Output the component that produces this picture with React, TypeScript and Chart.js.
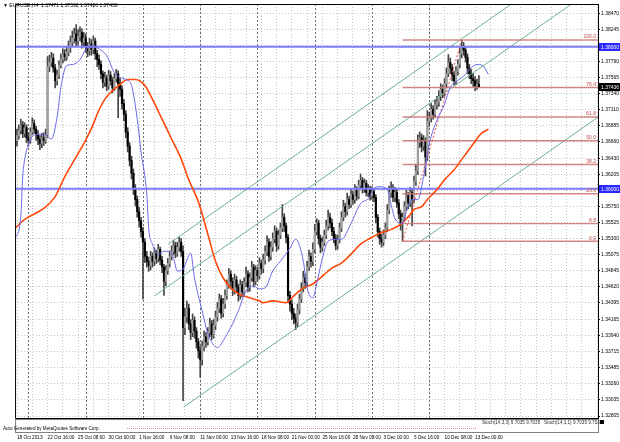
import React, { useEffect, useRef } from 'react';
import { Chart, registerables } from 'chart.js';

Chart.register(...registerables);

const symbolName = 'EURUSD,H4';

const opens = [
  1.3668, 1.3675, 1.3682, 1.3690, 1.3678, 1.3686, 1.3672, 1.3668, 1.3680, 1.3692,
  1.3684, 1.3676, 1.3670, 1.3664, 1.3672, 1.3668, 1.3676, 1.3772, 1.3778, 1.3784,
  1.3770, 1.3752, 1.3760, 1.3774, 1.3782, 1.3790, 1.3786, 1.3792, 1.3798, 1.3806,
  1.3812, 1.3818, 1.3808, 1.3814, 1.3820, 1.3806, 1.3812, 1.3800, 1.3794, 1.3804,
  1.3796, 1.3808, 1.3790, 1.3782, 1.3775, 1.3762, 1.3750, 1.3756, 1.3745, 1.3760,
  1.3752, 1.3742, 1.3755, 1.3762, 1.3748, 1.3740, 1.3720, 1.3705, 1.3680, 1.3660,
  1.3640, 1.3622, 1.3600, 1.3585, 1.3568, 1.3555, 1.3540, 1.3525, 1.3505, 1.3498,
  1.3492, 1.3505, 1.3498, 1.3510, 1.3502, 1.3515, 1.3500, 1.3490, 1.3470, 1.3485,
  1.3495, 1.3505, 1.3512, 1.3520, 1.3510, 1.3518, 1.3525, 1.3512, 1.3405, 1.3420,
  1.3432, 1.3410, 1.3398, 1.3415, 1.3400, 1.3385, 1.3372, 1.3360, 1.3378, 1.3392,
  1.3385, 1.3398, 1.3410, 1.3395, 1.3408, 1.3420, 1.3432, 1.3445, 1.3425, 1.3438,
  1.3450, 1.3465, 1.3480, 1.3470, 1.3458, 1.3472, 1.3462, 1.3450, 1.3465, 1.3455,
  1.3468, 1.3480, 1.3462, 1.3475, 1.3490, 1.3470, 1.3485, 1.3478, 1.3495, 1.3488,
  1.3500, 1.3512, 1.3525, 1.3505, 1.3518, 1.3530, 1.3540, 1.3520, 1.3535, 1.3545,
  1.3560, 1.3548, 1.3532, 1.3450, 1.3438, 1.3425, 1.3418, 1.3412, 1.3430, 1.3445,
  1.3460, 1.3475, 1.3468, 1.3490, 1.3505, 1.3498, 1.3515, 1.3540, 1.3552, 1.3530,
  1.3518, 1.3525, 1.3535, 1.3548, 1.3560, 1.3552, 1.3540, 1.3530, 1.3520, 1.3528,
  1.3545, 1.3560, 1.3575, 1.3568, 1.3585, 1.3578, 1.3592, 1.3585, 1.3598, 1.3590,
  1.3605, 1.3612, 1.3600, 1.3608, 1.3595, 1.3600, 1.3590, 1.3596, 1.3588, 1.3560,
  1.3540, 1.3530, 1.3525, 1.3535, 1.3545, 1.3570, 1.3595, 1.3600, 1.3588, 1.3595,
  1.3580, 1.3565, 1.3550, 1.3560, 1.3575, 1.3590, 1.3580, 1.3595, 1.3585, 1.3610,
  1.3625, 1.3665, 1.3672, 1.3660, 1.3668, 1.3645, 1.3695, 1.3700, 1.3712, 1.3705,
  1.3718, 1.3722, 1.3730, 1.3740, 1.3735, 1.3748, 1.3762, 1.3778, 1.3770, 1.3760,
  1.3752, 1.3765, 1.3775, 1.3790, 1.3800, 1.3795, 1.3785, 1.3770, 1.3762, 1.3755,
  1.3752, 1.3745, 1.37471,
];

const highs = [
  1.3684, 1.3690, 1.3698, 1.3695, 1.3693, 1.3690, 1.3679, 1.3686, 1.3700, 1.3697,
  1.3688, 1.3682, 1.3675, 1.3678, 1.3679, 1.3684, 1.3786, 1.3788, 1.3792, 1.3790,
  1.3775, 1.3767, 1.3780, 1.3790, 1.3797, 1.3796, 1.3800, 1.3808, 1.3815, 1.3822,
  1.3826, 1.3831, 1.3824, 1.3828, 1.3825, 1.3820, 1.3818, 1.3806, 1.3812, 1.3810,
  1.3815, 1.3812, 1.3795, 1.3788, 1.3780, 1.3766, 1.3764, 1.3760, 1.3767, 1.3765,
  1.3757, 1.3762, 1.3768, 1.3766, 1.3755, 1.3745, 1.3726, 1.3710, 1.3686, 1.3665,
  1.3646, 1.3628, 1.3606, 1.3590, 1.3574, 1.3560, 1.3546, 1.3530, 1.3512, 1.3504,
  1.3512, 1.3510, 1.3517, 1.3514, 1.3522, 1.3518, 1.3505, 1.3494, 1.3492, 1.3502,
  1.3512, 1.3520, 1.3528, 1.3525, 1.3525, 1.3532, 1.3530, 1.3520, 1.3432, 1.3442,
  1.3438, 1.3416, 1.3424, 1.3420, 1.3405, 1.3390, 1.3378, 1.3386, 1.3400, 1.3398,
  1.3405, 1.3418, 1.3415, 1.3416, 1.3428, 1.3440, 1.3452, 1.3450, 1.3446, 1.3458,
  1.3472, 1.3488, 1.3485, 1.3475, 1.3480, 1.3477, 1.3466, 1.3472, 1.3470, 1.3475,
  1.3490, 1.3485, 1.3482, 1.3498, 1.3494, 1.3492, 1.3490, 1.3503, 1.3500, 1.3508,
  1.3520, 1.3534, 1.3530, 1.3526, 1.3538, 1.3548, 1.3545, 1.3542, 1.3552, 1.3578,
  1.3565, 1.3552, 1.3536, 1.3456, 1.3444, 1.3432, 1.3424, 1.3438, 1.3452, 1.3468,
  1.3484, 1.3480, 1.3498, 1.3514, 1.3510, 1.3524, 1.3550, 1.3558, 1.3556, 1.3535,
  1.3532, 1.3542, 1.3556, 1.3570, 1.3566, 1.3558, 1.3546, 1.3536, 1.3535, 1.3552,
  1.3568, 1.3584, 1.3580, 1.3594, 1.3590, 1.3600, 1.3597, 1.3606, 1.3603, 1.3612,
  1.3621, 1.3616, 1.3614, 1.3612, 1.3606, 1.3604, 1.3603, 1.3600, 1.3592, 1.3564,
  1.3545, 1.3536, 1.3542, 1.3552, 1.3578, 1.3604, 1.3610, 1.3606, 1.3602, 1.3600,
  1.3585, 1.3570, 1.3566, 1.3582, 1.3598, 1.3595, 1.3602, 1.3600, 1.3618, 1.3634,
  1.3676, 1.3680, 1.3677, 1.3675, 1.3672, 1.3710, 1.3708, 1.3720, 1.3717, 1.3725,
  1.3730, 1.3738, 1.3748, 1.3746, 1.3755, 1.3770, 1.3789, 1.3784, 1.3775, 1.3765,
  1.3772, 1.3782, 1.3798, 1.3809, 1.3806, 1.3800, 1.3790, 1.3775, 1.3768, 1.3762,
  1.3758, 1.3754, 1.37592,
];

const lows = [
  1.3660, 1.3670, 1.3677, 1.3672, 1.3673, 1.3665, 1.3660, 1.3664, 1.3676, 1.3678,
  1.3668, 1.3662, 1.3655, 1.3658, 1.3661, 1.3664, 1.3672, 1.3765, 1.3772, 1.3764,
  1.3742, 1.3746, 1.3755, 1.3770, 1.3777, 1.3780, 1.3781, 1.3787, 1.3792, 1.3800,
  1.3805, 1.3800, 1.3802, 1.3808, 1.3798, 1.3800, 1.3792, 1.3786, 1.3788, 1.3788,
  1.3790, 1.3782, 1.3772, 1.3768, 1.3755, 1.3742, 1.3744, 1.3738, 1.3740, 1.3746,
  1.3735, 1.3738, 1.3750, 1.3700, 1.3730, 1.3712, 1.3696, 1.3672, 1.3652, 1.3632,
  1.3614, 1.3592, 1.3576, 1.3560, 1.3546, 1.3532, 1.3445, 1.3496, 1.3490, 1.3484,
  1.3486, 1.3490, 1.3492, 1.3495, 1.3497, 1.3493, 1.3482, 1.3450, 1.3464, 1.3480,
  1.3490, 1.3500, 1.3507, 1.3503, 1.3505, 1.3512, 1.3505, 1.3302, 1.3395, 1.3412,
  1.3402, 1.3388, 1.3392, 1.3390, 1.3376, 1.3362, 1.3335, 1.3352, 1.3372, 1.3377,
  1.3380, 1.3392, 1.3388, 1.3390, 1.3402, 1.3414, 1.3426, 1.3418, 1.3420, 1.3432,
  1.3445, 1.3460, 1.3462, 1.3450, 1.3452, 1.3455, 1.3442, 1.3445, 1.3448, 1.3450,
  1.3462, 1.3455, 1.3456, 1.3470, 1.3462, 1.3465, 1.3470, 1.3473, 1.3480, 1.3482,
  1.3494, 1.3506, 1.3498, 1.3500, 1.3512, 1.3524, 1.3512, 1.3515, 1.3530, 1.3540,
  1.3540, 1.3524, 1.3440, 1.3428, 1.3416, 1.3410, 1.3402, 1.3406, 1.3424, 1.3440,
  1.3455, 1.3460, 1.3462, 1.3485, 1.3490, 1.3492, 1.3510, 1.3535, 1.3522, 1.3510,
  1.3512, 1.3520, 1.3530, 1.3542, 1.3545, 1.3534, 1.3524, 1.3514, 1.3515, 1.3524,
  1.3540, 1.3555, 1.3560, 1.3563, 1.3572, 1.3574, 1.3578, 1.3580, 1.3584, 1.3586,
  1.3600, 1.3594, 1.3595, 1.3590, 1.3589, 1.3584, 1.3585, 1.3582, 1.3552, 1.3532,
  1.3522, 1.3518, 1.3520, 1.3530, 1.3540, 1.3565, 1.3588, 1.3582, 1.3582, 1.3574,
  1.3558, 1.3542, 1.3526, 1.3555, 1.3570, 1.3572, 1.3575, 1.3548, 1.3580, 1.3605,
  1.3620, 1.3658, 1.3652, 1.3654, 1.3618, 1.3640, 1.3688, 1.3694, 1.3698, 1.3700,
  1.3712, 1.3716, 1.3724, 1.3728, 1.3730, 1.3742, 1.3758, 1.3762, 1.3752, 1.3746,
  1.3747, 1.3760, 1.3770, 1.3784, 1.3788, 1.3778, 1.3762, 1.3755, 1.3748, 1.3744,
  1.3738, 1.3740, 1.37426,
];

const closes = [
  1.3675, 1.3682, 1.3690, 1.3678, 1.3686, 1.3672, 1.3668, 1.3680, 1.3692, 1.3684,
  1.3676, 1.3670, 1.3664, 1.3672, 1.3668, 1.3676, 1.3772, 1.3778, 1.3784, 1.3770,
  1.3752, 1.3760, 1.3774, 1.3782, 1.3790, 1.3786, 1.3792, 1.3798, 1.3806, 1.3812,
  1.3818, 1.3808, 1.3814, 1.3820, 1.3806, 1.3812, 1.3800, 1.3794, 1.3804, 1.3796,
  1.3808, 1.3790, 1.3782, 1.3775, 1.3762, 1.3750, 1.3756, 1.3745, 1.3760, 1.3752,
  1.3742, 1.3755, 1.3762, 1.3748, 1.3740, 1.3720, 1.3705, 1.3680, 1.3660, 1.3640,
  1.3622, 1.3600, 1.3585, 1.3568, 1.3555, 1.3540, 1.3525, 1.3505, 1.3498, 1.3492,
  1.3505, 1.3498, 1.3510, 1.3502, 1.3515, 1.3500, 1.3490, 1.3470, 1.3485, 1.3495,
  1.3505, 1.3512, 1.3520, 1.3510, 1.3518, 1.3525, 1.3512, 1.3405, 1.3420, 1.3432,
  1.3410, 1.3398, 1.3415, 1.3400, 1.3385, 1.3372, 1.3360, 1.3378, 1.3392, 1.3385,
  1.3398, 1.3410, 1.3395, 1.3408, 1.3420, 1.3432, 1.3445, 1.3425, 1.3438, 1.3450,
  1.3465, 1.3480, 1.3470, 1.3458, 1.3472, 1.3462, 1.3450, 1.3465, 1.3455, 1.3468,
  1.3480, 1.3462, 1.3475, 1.3490, 1.3470, 1.3485, 1.3478, 1.3495, 1.3488, 1.3500,
  1.3512, 1.3525, 1.3505, 1.3518, 1.3530, 1.3540, 1.3520, 1.3535, 1.3545, 1.3560,
  1.3548, 1.3532, 1.3450, 1.3438, 1.3425, 1.3418, 1.3412, 1.3430, 1.3445, 1.3460,
  1.3475, 1.3468, 1.3490, 1.3505, 1.3498, 1.3515, 1.3540, 1.3552, 1.3530, 1.3518,
  1.3525, 1.3535, 1.3548, 1.3560, 1.3552, 1.3540, 1.3530, 1.3520, 1.3528, 1.3545,
  1.3560, 1.3575, 1.3568, 1.3585, 1.3578, 1.3592, 1.3585, 1.3598, 1.3590, 1.3605,
  1.3612, 1.3600, 1.3608, 1.3595, 1.3600, 1.3590, 1.3596, 1.3588, 1.3560, 1.3540,
  1.3530, 1.3525, 1.3535, 1.3545, 1.3570, 1.3595, 1.3600, 1.3588, 1.3595, 1.3580,
  1.3565, 1.3550, 1.3560, 1.3575, 1.3590, 1.3580, 1.3595, 1.3585, 1.3610, 1.3625,
  1.3665, 1.3672, 1.3660, 1.3668, 1.3645, 1.3695, 1.3700, 1.3712, 1.3705, 1.3718,
  1.3722, 1.3730, 1.3740, 1.3735, 1.3748, 1.3762, 1.3778, 1.3770, 1.3760, 1.3752,
  1.3765, 1.3775, 1.3790, 1.3800, 1.3795, 1.3785, 1.3770, 1.3762, 1.3755, 1.3752,
  1.3745, 1.3747, 1.37436,
];

// fast moving average (blue), read at sparse bars
const maFastBars = [-1, 2, 3, 4, 7, 9, 14, 18, 21, 23, 26, 29, 33, 36, 40, 42, 47, 51, 54, 57, 60, 63, 65, 68, 69, 71, 74, 77, 80, 82, 84, 87, 91, 93, 97, 100, 105, 109, 113, 116, 120, 124, 127, 130, 134, 138, 143, 146, 150, 152, 155, 157, 160, 163, 167, 170, 175, 180, 184, 187, 190, 194, 196, 198, 202, 204, 207, 210, 213, 216, 220, 224, 227, 231, 235, 238, 241, 244, 247];
const maFastValues = [1.35291, 1.35612, 1.36170, 1.36408, 1.36687, 1.36757, 1.36771, 1.36701, 1.37008, 1.37427, 1.37734, 1.37748, 1.37818, 1.37958, 1.38013, 1.37985, 1.37874, 1.37636, 1.37567, 1.37539, 1.37455, 1.36980, 1.36519, 1.35919, 1.35444, 1.35221, 1.35081, 1.35123, 1.35123, 1.35025, 1.34844, 1.34872, 1.35095, 1.34746, 1.34285, 1.33964, 1.33769, 1.33908, 1.34104, 1.34285, 1.34565, 1.34634, 1.34593, 1.34607, 1.34844, 1.34983, 1.35165, 1.35291, 1.34983, 1.34607, 1.34467, 1.34662, 1.35025, 1.35263, 1.35291, 1.35291, 1.35514, 1.35793, 1.35863, 1.36003, 1.36031, 1.35989, 1.35779, 1.35584, 1.35514, 1.35682, 1.35849, 1.35849, 1.36170, 1.36631, 1.36966, 1.37190, 1.37427, 1.37525, 1.37609, 1.37706, 1.37748, 1.37734, 1.37609];

// slow moving average (red), read at sparse bars
const maSlowBars = [-1, 4, 14, 20, 25, 31, 36, 40, 42, 46, 54, 58, 62, 67, 71, 76, 81, 86, 90, 95, 100, 104, 108, 112, 116, 122, 127, 129, 134, 141, 145, 150, 155, 160, 165, 170, 175, 180, 185, 190, 196, 201, 206, 208, 212, 215, 220, 224, 229, 234, 239, 243, 247];
const maSlowValues = [1.35444, 1.35570, 1.35724, 1.35891, 1.36170, 1.36450, 1.36687, 1.36910, 1.37050, 1.37259, 1.37469, 1.37539, 1.37539, 1.37455, 1.37259, 1.36980, 1.36701, 1.36422, 1.36128, 1.35821, 1.35360, 1.34983, 1.34746, 1.34607, 1.34523, 1.34467, 1.34425, 1.34397, 1.34425, 1.34397, 1.34495, 1.34607, 1.34662, 1.34774, 1.34886, 1.34956, 1.35081, 1.35221, 1.35305, 1.35374, 1.35430, 1.35500, 1.35640, 1.35710, 1.35751, 1.35849, 1.35989, 1.36128, 1.36268, 1.36450, 1.36631, 1.36771, 1.36841];

// equidistant channel (upper, middle, lower)
const channelStartBars = [79.2, 72.0, 87.3];
const channelStartPrices = [1.35221, 1.34495, 1.32931];
const channelEndBars = [304.4, 304.4, 304.4];
const channelEndPrices = [1.39452, 1.38860, 1.37008];

// horizontal lines
const hLinePrices = [1.38000, 1.36000];

// fibonacci retracement
const fibLevels = [0, 8.8, 23.6, 38.2, 50.0, 61.8, 76.4, 100.0];
const fibLowBar = 202;
const fibLowPrice = 1.35262;
const fibHighBar = 233;
const fibHighPrice = 1.38093;

// axes
const xMin = -1.02;
const xMax = 304.4;
const yMin = 1.32777;
const yMax = 1.38600;
const timeLabelBars = [0, 16, 32, 48, 64, 80, 96, 112, 128, 144, 160, 176, 192, 208, 224, 240];
const timeLabels = ['18 Oct 2013', '22 Oct 16:00', '25 Oct 08:00', '30 Oct 00:00', '1 Nov 16:00', '6 Nov 08:00', '11 Nov 00:00', '13 Nov 16:00', '18 Nov 08:00', '21 Nov 00:00', '25 Nov 16:00', '28 Nov 08:00', '3 Dec 00:00', '5 Dec 16:00', '10 Dec 08:00', '13 Dec 00:00'];
const gridBars = [0, 8, 16, 24, 32, 40, 48, 56, 64, 72, 80, 88, 96, 104, 112, 120, 128, 136, 144, 152, 160, 168, 176, 184, 192, 200, 208, 216, 224, 232, 240, 248, 256, 264, 272, 280, 288, 296, 304];
const weekStartBars = [6, 36, 66, 96, 126, 156, 186, 216];
const priceTicks = [1.38470, 1.38245, 1.38020, 1.37790, 1.37565, 1.37340, 1.37110, 1.36885, 1.36660, 1.36430, 1.36205, 1.35975, 1.35750, 1.35525, 1.35300, 1.35075, 1.34845, 1.34620, 1.34395, 1.34165, 1.33940, 1.33715, 1.33485, 1.33260, 1.33035, 1.32805];

const FONT = "'Liberation Sans', Arial, sans-serif";

export default function App() {
  const ref = useRef<HTMLCanvasElement | null>(null);

  useEffect(() => {
    document.body.style.margin = '0';
    const canvas = ref.current;
    if (!canvas) return;

    const idx = closes.map((_, i) => i);
    const isBull = idx.map((i) => closes[i] >= opens[i]);
    const wickData = idx.map((i) => ({ x: i, y: [lows[i], highs[i]] }));
    const bodyData = idx.map((i) => ({ x: i, y: [Math.min(opens[i], closes[i]), Math.max(opens[i], closes[i])] }));

    const fibRange = fibHighPrice - fibLowPrice;
    const fibPrice = (lvl: number) => fibLowPrice + (lvl / 100) * fibRange;

    const lineBase = { type: 'line' as const, pointRadius: 0, pointHoverRadius: 0, fill: false, tension: 0 };

    const datasets: any[] = [
      {
        type: 'bar', label: 'wicks', data: wickData, backgroundColor: '#444444', barThickness: 1,
        grouped: false, borderWidth: 0, order: 30,
      },
      {
        type: 'bar', label: 'bodies', data: bodyData,
        backgroundColor: idx.map((i) => (isBull[i] ? '#a0a0a0' : '#000000')),
        barThickness: 1.5, grouped: false, borderWidth: 0, minBarLength: 1, order: 29,
      },
      ...channelStartBars.map((b, k) => ({
        ...lineBase, label: 'channel' + k,
        data: [{ x: b, y: channelStartPrices[k] }, { x: channelEndBars[k], y: channelEndPrices[k] }],
        borderColor: 'rgb(110,175,145)', borderWidth: 1, order: 12,
      })),
      ...fibLevels.map((lvl) => ({
        ...lineBase, label: 'fib' + lvl,
        data: [{ x: fibLowBar, y: fibPrice(lvl) }, { x: xMax, y: fibPrice(lvl) }],
        borderColor: 'rgba(205,120,120,0.9)', borderWidth: 1.4, order: 11,
      })),
      {
        ...lineBase, label: 'fibTrend',
        data: [{ x: fibLowBar, y: fibLowPrice }, { x: fibHighBar, y: fibHighPrice }],
        borderColor: 'rgb(235,80,80)', borderWidth: 1, borderDash: [2, 2], order: 10,
      },
      ...hLinePrices.map((p, k) => ({
        ...lineBase, label: 'h' + k,
        data: [{ x: xMin, y: p }, { x: xMax, y: p }],
        borderColor: 'rgb(125,125,255)', borderWidth: 2, order: 9,
      })),
      {
        ...lineBase, label: 'maSlow',
        data: maSlowBars.map((b, i) => ({ x: b, y: maSlowValues[i] })),
        borderColor: 'rgb(255,72,10)', borderWidth: 1.6, cubicInterpolationMode: 'monotone', order: 5,
      },
      {
        ...lineBase, label: 'maFast',
        data: maFastBars.map((b, i) => ({ x: b, y: maFastValues[i] })),
        borderColor: 'rgb(105,105,235)', borderWidth: 1, cubicInterpolationMode: 'monotone', order: 4,
      },
    ];

    const overlay = {
      id: 'mt4overlay',
      beforeDatasetsDraw(chart: any) {
        const { ctx, chartArea: a, scales } = chart;
        const xs = scales.x;
        ctx.save();
        ctx.strokeStyle = '#6e6e6e';
        ctx.lineWidth = 1;
        ctx.setLineDash([2, 2]);
        weekStartBars.forEach((b) => {
          const px = Math.round(xs.getPixelForValue(b)) + 0.5;
          ctx.beginPath();
          ctx.moveTo(px, a.top);
          ctx.lineTo(px, a.bottom);
          ctx.stroke();
        });
        ctx.restore();
      },
      afterDatasetsDraw(chart: any) {
        const { ctx, chartArea: a, scales } = chart;
        const ys = scales.y;
        ctx.save();
        ctx.font = `5px ${FONT}`;
        ctx.fillStyle = 'rgb(190,70,70)';
        ctx.textAlign = 'right';
        ctx.textBaseline = 'bottom';
        fibLevels.forEach((lvl) => {
          const py = ys.getPixelForValue(fibPrice(lvl));
          ctx.fillText(lvl.toFixed(1), a.right - 2, py - 0.5);
        });
        ctx.restore();
      },
      afterDraw(chart: any) {
        const { ctx, chartArea: a, scales } = chart;
        const ys = scales.y;
        ctx.save();
        ctx.setLineDash([]);
        // frame
        ctx.strokeStyle = '#000';
        ctx.lineWidth = 1;
        ctx.beginPath();
        ctx.moveTo(a.left + 0.5, a.top + 0.5);
        ctx.lineTo(a.left + 0.5, a.bottom + 0.5);
        ctx.lineTo(a.right + 0.5, a.bottom + 0.5);
        ctx.moveTo(a.left + 0.5, a.top + 0.5);
        ctx.lineTo(a.right + 0.5, a.top + 0.5);
        ctx.stroke();

        // price boxes on the axis
        const last = closes.length - 1;
        const boxes = [
          { p: hLinePrices[0], bg: 'rgb(40,40,255)' },
          { p: closes[last], bg: '#000' },
          { p: hLinePrices[1], bg: 'rgb(40,40,255)' },
        ];
        ctx.font = `5px ${FONT}`;
        ctx.textAlign = 'left';
        ctx.textBaseline = 'middle';
        boxes.forEach((bx) => {
          const py = Math.round(ys.getPixelForValue(bx.p));
          ctx.fillStyle = bx.bg;
          ctx.fillRect(a.right + 1, py - 4, 21, 8);
          ctx.fillStyle = '#fff';
          ctx.fillText(bx.p.toFixed(5), a.right + 3, py + 0.5);
        });

        // title
        ctx.fillStyle = '#000';
        ctx.font = `5px ${FONT}`;
        ctx.textBaseline = 'middle';
        const title = `\u25BC ${symbolName}  ${opens[last].toFixed(5)} ${highs[last].toFixed(5)} ${lows[last].toFixed(5)} ${closes[last].toFixed(5)}`;
        ctx.fillText(title, 3, 6);

        // indicator strip below the price chart
        const top = a.bottom + 1;
        ctx.fillStyle = '#fff';
        ctx.fillRect(a.left + 1, top, a.right - a.left - 1, 13);
        ctx.strokeStyle = '#808080';
        ctx.strokeRect(a.left + 0.5, top + 0.5, a.right - a.left, 13);
        ctx.fillStyle = '#303030';
        ctx.font = `4.6px ${FONT}`;
        ctx.fillText('Stoch(14,3,3) 9.7035 9.7035   Stoch(14,1,1) 9.7035 9.7035', 482, top + 4);
        ctx.fillStyle = '#000';
        ctx.fillText('Auto Generated by MetaQuotes Software Corp.', 3, top + 9.5);
        ctx.strokeStyle = 'rgb(230,120,190)';
        ctx.setLineDash([1, 1]);
        ctx.beginPath();
        ctx.moveTo(127, top + 9.5);
        ctx.lineTo(477, top + 9.5);
        ctx.stroke();
        ctx.setLineDash([]);
        ctx.fillStyle = '#000';
        ctx.fillRect(a.right + 2, top + 1, 4, 4);
        ctx.restore();
      },
    };

    const chart = new Chart(canvas, {
      type: 'bar',
      data: { datasets },
      options: {
        responsive: false,
        animation: false,
        events: [],
        layout: { padding: { left: 0, right: 0, top: 1, bottom: 0 } },
        plugins: { legend: { display: false }, tooltip: { enabled: false } },
        scales: {
          x: {
            type: 'linear',
            min: xMin,
            max: xMax,
            offset: false,
            afterFit: (s: any) => { s.height = 24; },
            afterBuildTicks: (s: any) => { s.ticks = gridBars.map((v) => ({ value: v })); },
            grid: { offset: false, color: '#c4c4c4', lineWidth: 1, drawTicks: false },
            border: { display: false, dash: [1, 2] },
            ticks: {
              autoSkip: false, maxRotation: 0, minRotation: 0, align: 'start', padding: 17,
              color: '#000', font: { size: 4.7, family: FONT },
              callback: (v: any) => {
                const k = timeLabelBars.indexOf(Number(v));
                return k >= 0 ? timeLabels[k] : '';
              },
            },
          },
          y: {
            type: 'linear',
            position: 'right',
            min: yMin,
            max: yMax,
            afterFit: (s: any) => { s.width = 22; },
            afterBuildTicks: (s: any) => { s.ticks = priceTicks.map((v) => ({ value: v })); },
            grid: { color: '#c4c4c4', lineWidth: 1, drawTicks: true, tickLength: 2, tickColor: '#000' },
            border: { display: true, color: '#000', width: 1, dash: [1, 2] },
            ticks: {
              padding: 1, color: '#000', font: { size: 5, family: FONT },
              callback: (v: any) => Number(v).toFixed(5),
            },
          },
        },
      } as any,
      plugins: [overlay],
    });

    return () => chart.destroy();
  }, []);

  return (
    <div style={{ width: 620, height: 442 }}>
      <canvas ref={ref} width={620} height={442} style={{ display: 'block', width: 620, height: 442 }} />
    </div>
  );
}
